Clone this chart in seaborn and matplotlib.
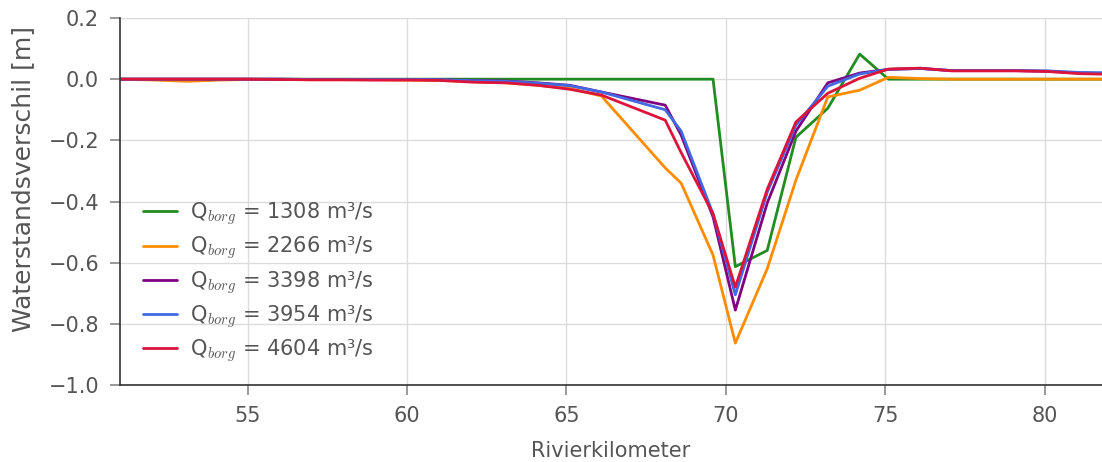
import numpy as np
import pandas as pd
import matplotlib
matplotlib.use("Agg")
import matplotlib.pyplot as plt
import seaborn as sns

# River kilometres at which the water-level difference was computed
km = [51.0, 52.1, 53.1, 54.1, 55.0, 56.0, 57.0, 58.0, 59.0, 60.0, 61.0, 62.1,
      63.1, 64.1, 65.1, 66.1, 68.1, 68.6, 69.6, 70.3, 71.3, 72.2, 73.2, 74.2,
      75.1, 76.1, 77.1, 78.1, 79.1, 80.1, 81.1, 82.0]

# Water-level difference [m] per discharge scenario
q1308 = [0.0, 0.0, 0.0, 0.0, 0.0, 0.0, 0.0, 0.0, 0.0, 0.0, 0.0, 0.0,
         0.0, 0.0, 0.0, 0.0, 0.0, 0.0, 0.0, -0.613, -0.56, -0.19, -0.095, 0.082,
         0.0, 0.0, 0.0, 0.0, 0.0, 0.0, 0.0, 0.0]
q2266 = [0.0, -0.003, -0.007, -0.003, -0.001, -0.001, -0.002, -0.002, -0.002, -0.003, -0.004, -0.008,
         -0.012, -0.02, -0.03, -0.055, -0.29, -0.34, -0.575, -0.863, -0.62, -0.33, -0.058, -0.036,
         0.006, 0.002, 0.0, 0.0, 0.0, 0.0, 0.0, 0.0]
q3398 = [0.0, 0.0, 0.0, 0.0, 0.0, 0.0, -0.001, -0.001, -0.001, -0.001, -0.002, -0.004,
         -0.006, -0.012, -0.02, -0.042, -0.085, -0.183, -0.45, -0.755, -0.405, -0.17, -0.012, 0.02,
         0.032, 0.035, 0.028, 0.028, 0.028, 0.026, 0.02, 0.018]
q3954 = [0.0, 0.0, 0.0, 0.0, 0.0, 0.0, -0.001, -0.001, -0.001, -0.001, -0.002, -0.005,
         -0.007, -0.013, -0.021, -0.042, -0.1, -0.17, -0.44, -0.705, -0.37, -0.15, -0.023, 0.017,
         0.032, 0.035, 0.028, 0.028, 0.028, 0.027, 0.022, 0.021]
q4604 = [0.0, 0.0, 0.0, 0.0, 0.0, -0.001, -0.002, -0.002, -0.003, -0.003, -0.004, -0.01,
         -0.012, -0.02, -0.033, -0.052, -0.134, -0.24, -0.44, -0.68, -0.36, -0.14, -0.046, 0.003,
         0.033, 0.036, 0.027, 0.027, 0.027, 0.025, 0.018, 0.016]

discharges = [1308, 2266, 3398, 3954, 4604]
series = [q1308, q2266, q3398, q3954, q4604]
colors = ["forestgreen", "darkorange", "purple", "royalblue", "crimson"]

x_ticks = [55, 60, 65, 70, 75, 80]
y_ticks = [-1.0, -0.8, -0.6, -0.4, -0.2, 0.0, 0.2]
y_tick_labels = ["\u22121.0", "\u22120.8", "\u22120.6", "\u22120.4", "\u22120.2", "0.0", "0.2"]

labels = [f"Q$_{{borg}}$ = {q} m\u00b3/s" for q in discharges]

frames = []
for lab, vals in zip(labels, series):
    frames.append(pd.DataFrame({"km": km, "dh": vals, "scenario": lab}))
df = pd.concat(frames, ignore_index=True)

sns.set_style("ticks")
plt.rcParams["font.family"] = ["DejaVu Sans"]
plt.rcParams["mathtext.fontset"] = "cm"

text_grey = "#555555"

fig = plt.figure(figsize=(11.02, 4.62), dpi=100)
ax = fig.add_axes([120 / 1102, 1 - 385 / 462, 1 - 120 / 1102, (385 - 18) / 462])

sns.lineplot(data=df, x="km", y="dh", hue="scenario", hue_order=labels,
             palette=colors, linewidth=2, ax=ax, sort=False)

ax.set_xlim(51.0, 81.8)
ax.set_ylim(-1.0, 0.2)
ax.set_xticks(x_ticks)
ax.set_yticks(y_ticks)
ax.set_yticklabels(y_tick_labels)

ax.grid(True, color="#dcdcdc", linewidth=1)
ax.set_axisbelow(True)
for side in ["top", "right"]:
    ax.spines[side].set_visible(False)
for side in ["left", "bottom"]:
    ax.spines[side].set_color("#333333")
    ax.spines[side].set_linewidth(1.2)

ax.tick_params(axis="both", direction="out", length=7, width=1.2, color="#888888",
               labelsize=15, labelcolor=text_grey, pad=8)

ax.set_xlabel("Rivierkilometer", fontsize=15, color=text_grey, labelpad=11)
ax.set_ylabel("Waterstandsverschil [m]", fontsize=18, color=text_grey)
ax.yaxis.set_label_coords(-0.086, 0.56)

leg = ax.legend(loc="center left", bbox_to_anchor=(0.015, 0.28), borderaxespad=0,
                frameon=False, fontsize=15, labelspacing=0.36, handlelength=1.65,
                handletextpad=0.6)
for t in leg.get_texts():
    t.set_color(text_grey)

fig.savefig("out.png", dpi=100)
